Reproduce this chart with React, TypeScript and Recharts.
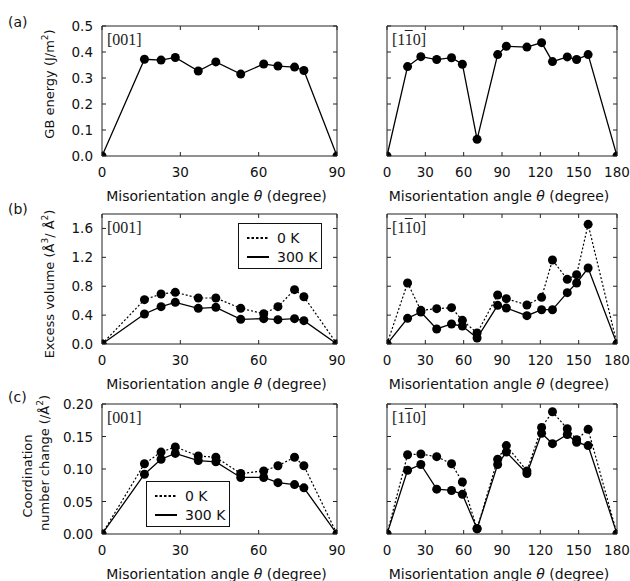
import { LineChart, Line, XAxis, YAxis, ReferenceArea } from 'recharts';

// misorientation angles (degree) for the two tilt axes
const angles001 = [0, 16.26, 22.62, 28.07, 36.87, 43.6, 53.13, 61.93, 67.38, 73.74, 77.32, 90];
const angles110 = [0, 16.1, 26.5, 38.9, 50.5, 59.0, 70.5, 86.6, 93.4, 109.5, 121.0, 129.5, 141.1, 148.4, 157.4, 180];

// (a) GB energy (J/m2)
const energy001 = [0, 0.372, 0.369, 0.379, 0.327, 0.362, 0.315, 0.354, 0.346, 0.342, 0.329, 0];
const energy110 = [0, 0.344, 0.382, 0.371, 0.378, 0.353, 0.064, 0.39, 0.422, 0.419, 0.436, 0.363, 0.381, 0.371, 0.39, 0];

// (b) excess volume (A3/A2)
const volume001_0K = [0, 0.614, 0.692, 0.715, 0.637, 0.637, 0.494, 0.42, 0.517, 0.752, 0.655, 0];
const volume001_300K = [0, 0.415, 0.517, 0.577, 0.494, 0.508, 0.341, 0.351, 0.337, 0.351, 0.323, 0];
const volume110_0K = [0, 0.845, 0.466, 0.489, 0.503, 0.328, 0.152, 0.678, 0.628, 0.54, 0.646, 1.163, 0.895, 0.96, 1.657, 0];
const volume110_300K = [0, 0.355, 0.443, 0.208, 0.277, 0.249, 0.083, 0.535, 0.498, 0.392, 0.475, 0.475, 0.711, 0.845, 1.052, 0];

// (c) coordination number change (/A2)
const coord001_0K = [0, 0.108, 0.126, 0.134, 0.12, 0.118, 0.093, 0.097, 0.105, 0.118, 0.105, 0];
const coord001_300K = [0, 0.092, 0.115, 0.124, 0.113, 0.111, 0.087, 0.087, 0.079, 0.076, 0.071, 0];
const coord110_0K = [0, 0.122, 0.123, 0.119, 0.108, 0.08, 0.008, 0.115, 0.136, 0.097, 0.164, 0.188, 0.162, 0.145, 0.161, 0];
const coord110_300K = [0, 0.098, 0.107, 0.069, 0.067, 0.061, 0.008, 0.107, 0.126, 0.093, 0.155, 0.139, 0.153, 0.141, 0.136, 0];

const xTicks001 = [0, 30, 60, 90];
const xTicks110 = [0, 30, 60, 90, 120, 150, 180];
const yTicksEnergy = [0, 0.1, 0.2, 0.3, 0.4, 0.5];
const yTicksVolume = [0, 0.4, 0.8, 1.2, 1.6];
const yTicksCoord = [0, 0.05, 0.1, 0.15, 0.2];

const FONT = '"DejaVu Sans", sans-serif';
const SERIF = '"Liberation Serif", serif';

// plot box geometry (page pixels)
const COL_X = [102, 387];
const COL_W = [235, 230];
const ROW_Y = [26, 214, 404];
const PLOT_H = 130;

const ML = 52;
const MT = 14;
const MR = 16;
const XH = 30;
const TICK = 4;

function buildRows(angles: number[], a: number[], b?: number[]) {
    return angles.map((angle, i) => ({ angle, a: a[i], b: b ? b[i] : undefined }));
}

interface PanelProps {
    col: number;
    row: number;
    data: { angle: number; a: number; b?: number }[];
    xMax: number;
    xTicks: number[];
    yMax: number;
    yTicks: number[];
    digits: number;
    showYLabels: boolean;
    twoSeries: boolean;
}

function Panel({ col, row, data, xMax, xTicks, yMax, yTicks, digits, showYLabels, twoSeries }: PanelProps) {
    const plotW = COL_W[col];
    const width = ML + plotW + MR;
    const height = MT + PLOT_H + XH;
    const pl = ML;
    const pr = ML + plotW;
    const pt = MT;
    const pb = MT + PLOT_H;

    const xTick = (props: any) => {
        const { x, payload } = props;
        return (
            <g>
                <line x1={x} x2={x} y1={pb} y2={pb - TICK} stroke="#222" />
                <line x1={x} x2={x} y1={pt} y2={pt + TICK} stroke="#222" />
                <text x={x} y={pb + 20.5} textAnchor="middle" fontSize={13.5} fontFamily={FONT} fill="#111">
                    {payload.value}
                </text>
            </g>
        );
    };

    const yTick = (props: any) => {
        const { y, payload } = props;
        return (
            <g>
                <line x1={pl} x2={pl + TICK} y1={y} y2={y} stroke="#222" />
                <line x1={pr} x2={pr - TICK} y1={y} y2={y} stroke="#222" />
                {showYLabels && (
                    <text x={pl - 9} y={y + 5} textAnchor="end" fontSize={13.5} fontFamily={FONT} fill="#111">
                        {Number(payload.value).toFixed(digits)}
                    </text>
                )}
            </g>
        );
    };

    return (
        <div style={{ position: 'absolute', left: COL_X[col] - ML, top: ROW_Y[row] - MT }}>
            <LineChart width={width} height={height} data={data} margin={{ top: MT, right: MR, left: 0, bottom: 0 }}>
                <XAxis
                    dataKey="angle"
                    type="number"
                    domain={[0, xMax]}
                    ticks={xTicks}
                    allowDataOverflow
                    axisLine={false}
                    tickLine={false}
                    height={XH}
                    tick={xTick}
                    interval={0}
                />
                <YAxis
                    type="number"
                    domain={[0, yMax]}
                    ticks={yTicks}
                    allowDataOverflow
                    axisLine={false}
                    tickLine={false}
                    width={ML}
                    tick={yTick}
                    interval={0}
                />
                <ReferenceArea x1={0} x2={xMax} y1={0} y2={yMax} fill="none" stroke="#222" strokeWidth={1} />
                {twoSeries && (
                    <Line
                        type="linear"
                        dataKey="a"
                        stroke="#000"
                        strokeWidth={1.2}
                        strokeDasharray="2 2"
                        dot={{ r: 4.5, fill: '#000', stroke: '#000', strokeWidth: 0 }}
                        activeDot={false}
                        isAnimationActive={false}
                    />
                )}
                <Line
                    type="linear"
                    dataKey={twoSeries ? 'b' : 'a'}
                    stroke="#000"
                    strokeWidth={1.3}
                    dot={{ r: 4.5, fill: '#000', stroke: '#000', strokeWidth: 0 }}
                    activeDot={false}
                    isAnimationActive={false}
                />
            </LineChart>
        </div>
    );
}

function Tag({ col, row, bar }: { col: number; row: number; bar: boolean }) {
    return (
        <div
            style={{
                position: 'absolute',
                left: COL_X[col] + 5,
                top: ROW_Y[row] + 5,
                fontFamily: SERIF,
                fontSize: 16,
                lineHeight: '18px',
                color: '#222',
            }}
        >
            {bar ? (
                <span>
                    [1<span style={{ textDecoration: 'overline' }}>1</span>0]
                </span>
            ) : (
                '[001]'
            )}
        </div>
    );
}

function KeyBox({ left, top }: { left: number; top: number }) {
    const item = (dashed: boolean, label: string) => (
        <div style={{ display: 'flex', alignItems: 'center', height: 19 }}>
            <svg width={22} height={6} style={{ marginRight: 8 }}>
                <line x1={0} x2={22} y1={3} y2={3} stroke="#000" strokeWidth={2} strokeDasharray={dashed ? '2.5 2' : undefined} />
            </svg>
            <span>{label}</span>
        </div>
    );
    return (
        <div
            style={{
                position: 'absolute',
                left,
                top,
                width: 84,
                height: 46,
                border: '1.5px solid #111',
                background: '#fff',
                fontFamily: FONT,
                fontSize: 14,
                padding: '4px 0 0 8px',
                boxSizing: 'border-box',
            }}
        >
            {item(true, '0 K')}
            {item(false, '300 K')}
        </div>
    );
}

function XTitle({ col, row }: { col: number; row: number }) {
    return (
        <div
            style={{
                position: 'absolute',
                left: COL_X[col] + COL_W[col] / 2 - 3,
                top: ROW_Y[row] + PLOT_H + 40,
                transform: 'translate(-50%, -50%)',
                whiteSpace: 'nowrap',
                fontFamily: FONT,
                fontSize: 14,
            }}
        >
            Misorientation angle <i>θ</i> (degree)
        </div>
    );
}

function YTitle({ x, y, children }: { x: number; y: number; children: any }) {
    return (
        <div
            style={{
                position: 'absolute',
                left: x,
                top: y,
                transform: 'translate(-50%, -50%) rotate(-90deg)',
                whiteSpace: 'nowrap',
                fontFamily: FONT,
                fontSize: 13,
                lineHeight: '15px',
            }}
        >
            {children}
        </div>
    );
}

const supStyle = { fontSize: 9, verticalAlign: 'super', lineHeight: 0 } as const;

function PanelLetter({ y, text }: { y: number; text: string }) {
    return (
        <div
            style={{
                position: 'absolute',
                left: 8,
                top: y,
                transform: 'translateY(-50%)',
                fontFamily: FONT,
                fontSize: 14,
            }}
        >
            {text}
        </div>
    );
}

export default function App() {
    return (
        <div style={{ position: 'absolute', left: 0, top: 0, width: 630, height: 581, background: '#fff', color: '#111' }}>
            <Panel col={0} row={0} data={buildRows(angles001, energy001)} xMax={90} xTicks={xTicks001} yMax={0.5} yTicks={yTicksEnergy} digits={1} showYLabels twoSeries={false} />
            <Panel col={1} row={0} data={buildRows(angles110, energy110)} xMax={180} xTicks={xTicks110} yMax={0.5} yTicks={yTicksEnergy} digits={1} showYLabels={false} twoSeries={false} />
            <Panel col={0} row={1} data={buildRows(angles001, volume001_0K, volume001_300K)} xMax={90} xTicks={xTicks001} yMax={1.8} yTicks={yTicksVolume} digits={1} showYLabels twoSeries />
            <Panel col={1} row={1} data={buildRows(angles110, volume110_0K, volume110_300K)} xMax={180} xTicks={xTicks110} yMax={1.8} yTicks={yTicksVolume} digits={1} showYLabels={false} twoSeries />
            <Panel col={0} row={2} data={buildRows(angles001, coord001_0K, coord001_300K)} xMax={90} xTicks={xTicks001} yMax={0.2} yTicks={yTicksCoord} digits={2} showYLabels twoSeries />
            <Panel col={1} row={2} data={buildRows(angles110, coord110_0K, coord110_300K)} xMax={180} xTicks={xTicks110} yMax={0.2} yTicks={yTicksCoord} digits={2} showYLabels={false} twoSeries />

            <Tag col={0} row={0} bar={false} />
            <Tag col={1} row={0} bar />
            <Tag col={0} row={1} bar={false} />
            <Tag col={1} row={1} bar />
            <Tag col={0} row={2} bar={false} />
            <Tag col={1} row={2} bar />

            <KeyBox left={238} top={223} />
            <KeyBox left={146} top={481} />

            {[0, 1, 2].map((r) => (
                <div key={r}>
                    <XTitle col={0} row={r} />
                    <XTitle col={1} row={r} />
                </div>
            ))}

            <YTitle x={49} y={84}>
                GB energy (J/m<span style={supStyle}>2</span>)
            </YTitle>
            <YTitle x={49} y={284}>
                Excess volume (Å<span style={supStyle}>3</span>/ Å<span style={supStyle}>2</span>)
            </YTitle>
            <YTitle x={27} y={476}>Coordination</YTitle>
            <YTitle x={44} y={463}>
                number change (/Å<span style={supStyle}>2</span>)
            </YTitle>

            <PanelLetter y={22} text="(a)" />
            <PanelLetter y={209} text="(b)" />
            <PanelLetter y={397} text="(c)" />
        </div>
    );
}
